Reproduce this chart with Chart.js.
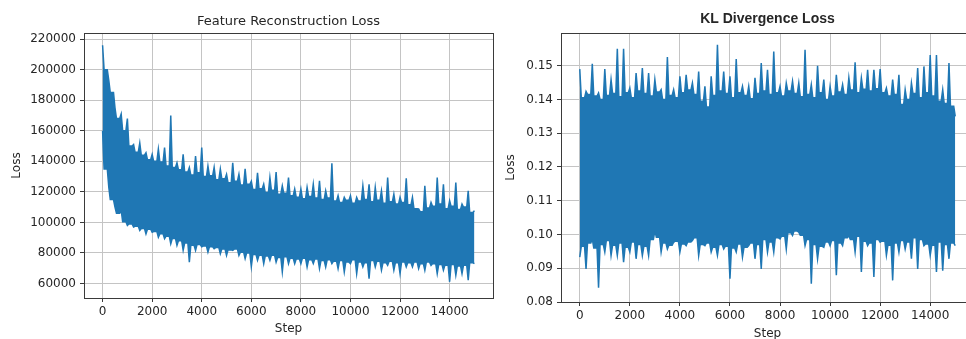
<!DOCTYPE html>
<html lang="en">

<head>
    <meta charset="UTF-8">
    <title>Feature Reconstruction Loss / KL Divergence Loss</title>
    <script src="https://cdn.jsdelivr.net/npm/chart.js"></script>
    <style>
        html, body {
            margin: 0;
            padding: 0;
            background: #fff;
            overflow: hidden;
            width: 966px;
            height: 339px;
        }

        .panel {
            position: absolute;
            top: 0;
        }

        #featPanel {
            left: 0;
            width: 500px;
            height: 339px;
        }

        #klPanel {
            left: 497px;
            width: 484px;
            height: 345px;
        }
    </style>
</head>

<body>
    <div class="panel" id="featPanel"><canvas id="featChart"></canvas></div>
    <div class="panel" id="klPanel"><canvas id="klChart"></canvas></div>
    <script>
        // local extremes of the noisy curves:
        // peaks at every 250 steps, the dips of the edge between them at 125 + 250k
        const peakSteps = [0, 250, 500, 750, 1000, 1250, 1500, 1750, 2000, 2250, 2500, 2750, 3000, 3250, 3500, 3750,
            4000, 4250, 4500, 4750, 5000, 5250, 5500, 5750, 6000, 6250, 6500, 6750, 7000, 7250, 7500, 7750,
            8000, 8250, 8500, 8750, 9000, 9250, 9500, 9750, 10000, 10250, 10500, 10750, 11000, 11250, 11500, 11750,
            12000, 12250, 12500, 12750, 13000, 13250, 13500, 13750, 14000, 14250, 14500, 14750, 15000];
        const valleySteps = [125, 375, 625, 875, 1125, 1375, 1625, 1875, 2125, 2375, 2625, 2875, 3125, 3375, 3625, 3875,
            4125, 4375, 4625, 4875, 5125, 5375, 5625, 5875, 6125, 6375, 6625, 6875, 7125, 7375, 7625, 7875,
            8125, 8375, 8625, 8875, 9125, 9375, 9625, 9875, 10125, 10375, 10625, 10875, 11125, 11375, 11625, 11875,
            12125, 12375, 12625, 12875, 13125, 13375, 13625, 13875, 14125, 14375, 14625, 14875];
        const xTicks = [0, 2000, 4000, 6000, 8000, 10000, 12000, 14000];

        // Feature Reconstruction Loss
        const featPeakHigh = [216000, 193000, 175000, 171000, 168000, 151000, 152000, 145600, 144500, 148000, 149000,
            170000, 139000, 144500, 136000, 143500, 149000, 137000, 136000, 135000, 131500, 139000, 131500, 135000,
            127000, 132500, 125000, 129400, 133000, 124000, 129400, 121800, 121800, 122900, 125000, 127200, 120700,
            138700, 117500, 116400, 117500, 116400, 124000, 125000, 122900, 120700, 129400, 118500, 116400, 128900,
            116400, 108800, 124000, 113100, 129400, 125000, 114200, 126100, 112000, 120700, 107700];
        const featValleyHigh = [200000, 185000, 168000, 160000, 150000, 146000, 144000, 141000, 140000, 139500,
            137000, 136000, 134500, 133000, 131000, 132500, 130000, 130500, 128000, 128500, 126000, 127000, 124500,
            125000, 121500, 122000, 119500, 121000, 118500, 119000, 117500, 116500, 115500, 117000, 116000, 115000,
            116000, 114000, 113000, 114500, 112500, 114000, 115000, 113500, 114500, 112500, 113500, 112000, 113000,
            111500, 109000, 107000, 109500, 110500, 112000, 109000, 110500, 108500, 110000, 106500];
        const featPeakLow = [160000, 123000, 110000, 108000, 98000, 97000, 94700, 92500, 93600, 90300, 89300,
            86000, 85000, 81700, 74000, 81700, 84000, 80600, 82800, 79500, 78400, 81700, 78400, 76300,
            71000, 75200, 73000, 75200, 74000, 67600, 73000, 73000, 73000, 70800, 73000, 69800, 70800,
            73000, 69800, 67600, 73000, 66500, 70800, 63200, 70800, 68700, 71900, 68700, 66500, 70800,
            70800, 69800, 68700, 71900, 66500, 68700, 61100, 65400, 66500, 62200, 73000];
        const featValleyLow = [135000, 115000, 106000, 100500, 99000, 97500, 96000, 95500, 94000, 92500, 91000,
            89500, 88000, 86500, 85000, 85500, 84500, 84000, 83500, 82500, 82000, 82500, 80500, 80000, 79000,
            78500, 78000, 78500, 77000, 77500, 76500, 76000, 76500, 75500, 76000, 75000, 75500, 74500, 75000,
            74000, 75500, 74000, 73500, 75000, 74500, 73500, 74500, 73500, 74000, 73500, 74000, 73000, 74000,
            73000, 72500, 72000, 72500, 71500, 72000, 73500];
        const featYTicks = [60000, 80000, 100000, 120000, 140000, 160000, 180000, 200000, 220000];

        // KL Divergence Loss
        const klPeakHigh = [0.1490, 0.1424, 0.1506, 0.1419, 0.1490, 0.1459, 0.1550, 0.1550, 0.1434, 0.1478, 0.1493,
            0.1478, 0.1459, 0.1429, 0.1526, 0.1429, 0.1469, 0.1473, 0.1449, 0.1483, 0.1439, 0.1469, 0.1562, 0.1483,
            0.1469, 0.1520, 0.1439, 0.1439, 0.1464, 0.1508, 0.1488, 0.1542, 0.1439, 0.1449, 0.1454, 0.1449, 0.1547,
            0.1444, 0.1500, 0.1459, 0.1439, 0.1473, 0.1444, 0.1464, 0.1510, 0.1464, 0.1488, 0.1488, 0.1490, 0.1434,
            0.1459, 0.1473, 0.1429, 0.1449, 0.1493, 0.1498, 0.1532, 0.1532, 0.1429, 0.1508, 0.1350];
        const klValleyHigh = [0.1405, 0.1415, 0.1410, 0.1400, 0.1412, 0.1418, 0.1408, 0.1420, 0.1405, 0.1425,
            0.1418, 0.1410, 0.1422, 0.1400, 0.1412, 0.1405, 0.1420, 0.1428, 0.1415, 0.1395, 0.1378, 0.1412, 0.1425,
            0.1418, 0.1405, 0.1420, 0.1412, 0.1402, 0.1418, 0.1425, 0.1415, 0.1420, 0.1410, 0.1425, 0.1418, 0.1408,
            0.1415, 0.1405, 0.1420, 0.1400, 0.1410, 0.1422, 0.1415, 0.1428, 0.1420, 0.1430, 0.1425, 0.1432, 0.1420,
            0.1410, 0.1415, 0.1385, 0.1400, 0.1418, 0.1405, 0.1420, 0.1410, 0.1395, 0.1388, 0.1380];
        const klPeakLow = [0.0933, 0.0898, 0.0987, 0.0842, 0.0948, 0.0938, 0.0938, 0.0918, 0.0948, 0.0928, 0.0938,
            0.0938, 0.1011, 0.0948, 0.0957, 0.0977, 0.0948, 0.0967, 0.0982, 0.0938, 0.0967, 0.0948, 0.0938, 0.0957,
            0.0869, 0.0948, 0.0933, 0.0967, 0.0928, 0.0898, 0.0948, 0.0948, 0.0987, 0.0957, 0.0997, 0.1007, 0.0967,
            0.0854, 0.0928, 0.0962, 0.0967, 0.0879, 0.0967, 0.0997, 0.0948, 0.0889, 0.0967, 0.0874, 0.0977, 0.0938,
            0.0864, 0.0948, 0.0957, 0.0928, 0.0898, 0.0967, 0.0938, 0.0889, 0.0893, 0.0928, 0.0967];
        const klValleyLow = [0.0965, 0.0975, 0.0960, 0.0970, 0.0982, 0.0968, 0.0975, 0.0962, 0.0978, 0.0970,
            0.0965, 0.0985, 0.0992, 0.0975, 0.0968, 0.0980, 0.0972, 0.0978, 0.0990, 0.0970, 0.0975, 0.0962, 0.0970,
            0.0965, 0.0960, 0.0972, 0.0962, 0.0975, 0.0970, 0.0985, 0.0978, 0.0990, 0.0995, 0.1005, 0.1010, 0.0998,
            0.0985, 0.0970, 0.0965, 0.0978, 0.0982, 0.0975, 0.0990, 0.0985, 0.0995, 0.0980, 0.0975, 0.0985, 0.0980,
            0.0968, 0.0975, 0.0982, 0.0978, 0.0990, 0.0985, 0.0972, 0.0968, 0.0978, 0.0970, 0.0975];
        const klYTicks = [0.08, 0.09, 0.10, 0.11, 0.12, 0.13, 0.14, 0.15];

        const lineColor = '#1f77b4';
        const textColor = '#262626';
        const gridColor = '#c4c4c4';
        const spineColor = '#3a3a3a';
        const spikeHalfWidth = 60; // in steps, how wide a spike is at its foot

        // matplotlib style box around the plot area
        const boxPlugin = {
            id: 'box',
            afterDatasetsDraw(chart) {
                const a = chart.chartArea;
                const ctx = chart.ctx;
                ctx.save();
                ctx.strokeStyle = spineColor;
                ctx.lineWidth = 1;
                ctx.strokeRect(Math.round(a.left) + 0.5, Math.round(a.top) + 0.5,
                    Math.round(a.right - a.left), Math.round(a.bottom - a.top));
                ctx.restore();
            }
        };

        // outline of the curve: flat dip, narrow spike, flat dip ...
        function edge(peaks, valleys) {
            const pts = [];
            peakSteps.forEach((x, i) => {
                if (i > 0) pts.push({ x: x - spikeHalfWidth, y: valleys[i - 1] });
                pts.push({ x: x, y: peaks[i] });
                if (i < valleySteps.length) pts.push({ x: x + spikeHalfWidth, y: valleys[i] });
            });
            return pts;
        }

        function makeChart(canvasId, cfg) {
            const tickFont = { family: 'DejaVu Sans', size: 12 };
            return new Chart(document.getElementById(canvasId), {
                type: 'line',
                data: {
                    datasets: [{
                        data: edge(cfg.peakHigh, cfg.valleyHigh),
                        borderColor: lineColor,
                        backgroundColor: lineColor,
                        borderWidth: 1.5,
                        pointRadius: 0,
                        fill: '+1'
                    }, {
                        data: edge(cfg.peakLow, cfg.valleyLow),
                        borderColor: lineColor,
                        borderWidth: 1.5,
                        pointRadius: 0,
                        fill: false
                    }]
                },
                options: {
                    responsive: true,
                    maintainAspectRatio: false,
                    animation: false,
                    layout: { padding: { left: 0, right: 7, top: 0, bottom: 0 } },
                    plugins: {
                        legend: { display: false },
                        tooltip: { enabled: false },
                        title: {
                            display: true,
                            text: cfg.title,
                            fullSize: false,
                            color: textColor,
                            font: cfg.titleFont,
                            padding: cfg.titlePadding
                        }
                    },
                    scales: {
                        x: {
                            type: 'linear',
                            min: -750,
                            max: 15750,
                            afterFit(scale) { scale.height = cfg.xHeight; },
                            afterBuildTicks(scale) { scale.ticks = xTicks.map(v => ({ value: v })); },
                            ticks: {
                                color: textColor,
                                font: tickFont,
                                maxRotation: 0,
                                padding: 3,
                                callback: v => String(v)
                            },
                            grid: { color: gridColor, tickColor: spineColor, tickLength: 4, lineWidth: 1 },
                            border: { display: false },
                            title: {
                                display: true,
                                text: 'Step',
                                color: textColor,
                                font: tickFont,
                                padding: { top: 0, bottom: cfg.stepPad }
                            }
                        },
                        y: {
                            type: 'linear',
                            min: cfg.yMin,
                            max: cfg.yMax,
                            afterFit(scale) { scale.width = cfg.yWidth; },
                            afterBuildTicks(scale) { scale.ticks = cfg.yTicks.map(v => ({ value: v })); },
                            ticks: {
                                color: textColor,
                                font: tickFont,
                                padding: 4,
                                callback: cfg.yFormat
                            },
                            grid: { color: gridColor, tickColor: spineColor, tickLength: 4, lineWidth: 1 },
                            border: { display: false },
                            title: {
                                display: true,
                                text: 'Loss',
                                color: textColor,
                                font: tickFont,
                                padding: { top: cfg.lossPad, bottom: 0 }
                            }
                        }
                    }
                },
                plugins: [boxPlugin]
            });
        }

        makeChart('featChart', {
            title: 'Feature Reconstruction Loss',
            titleFont: { family: 'DejaVu Sans', size: 13, weight: 'normal' },
            titlePadding: { top: 14, bottom: 3.4 },
            peakHigh: featPeakHigh,
            valleyHigh: featValleyHigh,
            peakLow: featPeakLow,
            valleyLow: featValleyLow,
            yMin: 50500,
            yMax: 224000,
            yTicks: featYTicks,
            yFormat: v => String(v),
            yWidth: 84,
            xHeight: 41,
            stepPad: 3,
            lossPad: 9.8
        });

        makeChart('klChart', {
            title: 'KL Divergence Loss',
            titleFont: { family: 'Liberation Sans', size: 14, weight: 'bold' },
            titlePadding: { top: 10.6, bottom: 5.6 },
            peakHigh: klPeakHigh,
            valleyHigh: klValleyHigh,
            peakLow: klPeakLow,
            valleyLow: klValleyLow,
            yMin: 0.08,
            yMax: 0.1597,
            yTicks: klYTicks,
            yFormat: v => v.toFixed(2),
            yWidth: 64,
            xHeight: 43,
            stepPad: 3.8,
            lossPad: 6.8
        });
    </script>
</body>

</html>
